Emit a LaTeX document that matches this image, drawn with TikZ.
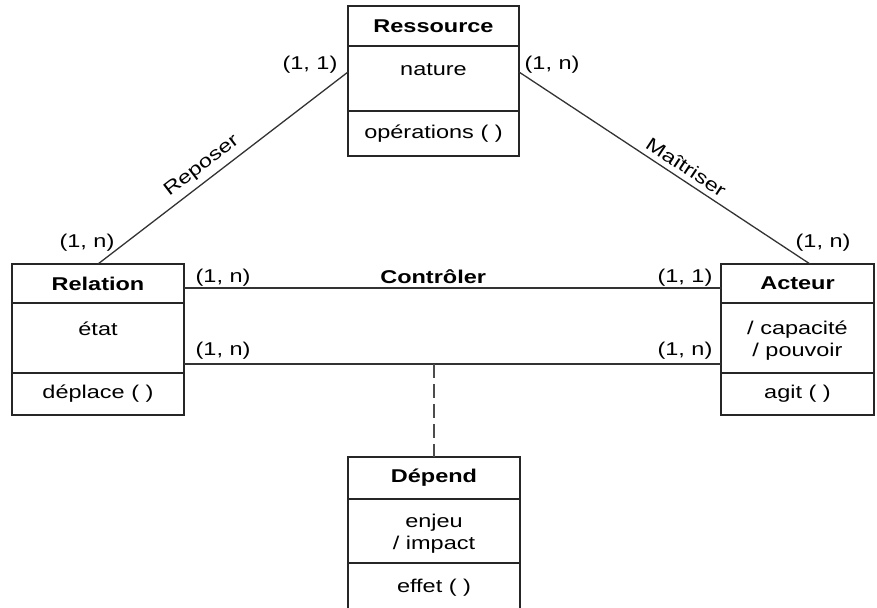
\documentclass[tikz,border=0pt]{standalone}
\usepackage{fontspec}
\setmainfont[FakeStretch=1.27]{Liberation Sans}
\usetikzlibrary{positioning}
\newcommand{\umlfont}{\fontsize{18.5}{22}\selectfont}

\begin{document}
\begin{tikzpicture}[x=1pt, y=-1pt,
  classhead/.style={draw=black!85, line width=1.4pt, rectangle, inner sep=0pt, outer sep=0pt, font=\umlfont\bfseries},
  classpart/.style={draw=black!85, line width=1.4pt, rectangle, inner sep=0pt, outer sep=0pt, font=\umlfont},
  attrtext/.style={inner sep=0pt, align=center, font=\umlfont},
  card/.style={inner sep=0pt, font=\umlfont},
  assoc/.style={draw=black!80, line width=1.3pt}]

  \useasboundingbox (0,0) rectangle (877,607);
  \clip (0,0) rectangle (877,607);

  % Define nodes
  \node[classhead, minimum width=171pt, minimum height=40pt] (res) at (433.5,26) {Ressource};
  \node[classpart, minimum width=171pt, minimum height=65pt, below=0pt of res] (res-attr) {};
  \node[classpart, minimum width=171pt, minimum height=45pt, below=0pt of res-attr] (res-op) {opérations ( )};
  \node[attrtext, anchor=base] (res-val) at ([yshift=-30pt]res-attr.north) {nature};

  \node[classhead, minimum width=172pt, minimum height=39pt] (rel) at (98,283.5) {Relation};
  \node[classpart, minimum width=172pt, minimum height=70pt, below=0pt of rel] (rel-attr) {};
  \node[classpart, minimum width=172pt, minimum height=42pt, below=0pt of rel-attr] (rel-op) {déplace ( )};
  \node[attrtext, anchor=base] (rel-val) at ([yshift=-32pt]rel-attr.north) {état};

  \node[classhead, minimum width=153pt, minimum height=39pt] (act) at (797.5,283.5) {Acteur};
  \node[classpart, minimum width=153pt, minimum height=70pt, below=0pt of act] (act-attr) {};
  \node[classpart, minimum width=153pt, minimum height=42pt, below=0pt of act-attr] (act-op) {agit ( )};
  \node[attrtext, anchor=north] (act-val) at ([yshift=-18pt]act-attr.north) {/ capacité\\/ pouvoir};

  \node[classhead, minimum width=172pt, minimum height=42pt] (dep) at (434,478) {Dépend};
  \node[classpart, minimum width=172pt, minimum height=64pt, below=0pt of dep] (dep-attr) {};
  \node[classpart, minimum width=172pt, minimum height=50pt, below=0pt of dep-attr] (dep-op) {effet ( )};
  \node[attrtext, anchor=north] (dep-val) at ([yshift=-15pt]dep-attr.north) {enjeu\\/ impact};

  % Connect the nodes
  \draw[assoc] (rel.north)
    node[card, anchor=base east, xshift=17pt, yshift=17pt] {(1, n)}
    -- node[sloped, above=2pt, pos=0.45, font=\umlfont] {Reposer}
    ([yshift=6.5pt]res-attr.west)
    node[card, anchor=base east, xshift=-10pt, yshift=2pt] {(1, 1)};
  \draw[assoc] ([yshift=6.5pt]res-attr.east)
    node[card, anchor=base west, xshift=5pt, yshift=2pt] {(1, n)}
    -- node[sloped, above=2pt, pos=0.55, font=\umlfont] {Maîtriser}
    ([xshift=12.5pt]act.north)
    node[card, anchor=base west, xshift=-15pt, yshift=17pt] {(1, n)};
  \draw[assoc] ([yshift=-4.5pt]rel.east)
    node[card, anchor=base west, xshift=11pt, yshift=6pt] {(1, n)}
    -- node[pos=0.464, above, font=\umlfont\bfseries] {Contrôler}
    ([yshift=-4.5pt]act.west)
    node[card, anchor=base east, xshift=-8pt, yshift=6pt] {(1, 1)};
  \draw[assoc] ([yshift=-26pt]rel-attr.east) coordinate (lowl)
    node[card, anchor=base west, xshift=11pt, yshift=9pt] {(1, n)}
    -- ([yshift=-26pt]act-attr.west)
    node[card, anchor=base east, xshift=-8pt, yshift=9pt] {(1, n)};
  \coordinate (link) at (dep.north |- lowl);
  \draw[assoc, draw=black!70, dash pattern=on 14pt off 6pt] (link) -- (dep.north);

\end{tikzpicture}
\end{document}
